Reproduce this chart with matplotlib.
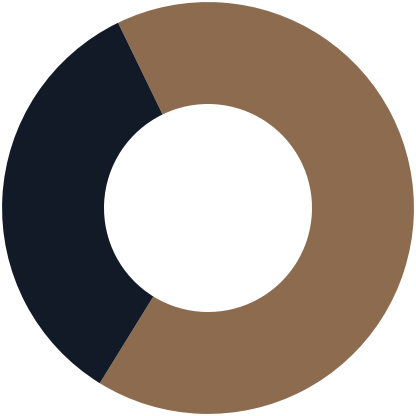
import matplotlib
matplotlib.use("Agg")
import matplotlib.pyplot as plt

labels = ["A", "B"]
values = [66, 34]
colors = ["#8c6b4f", "#111a26"]

fig = plt.figure(figsize=(4.16, 4.16), dpi=100)
ax = fig.add_axes([0, 0, 1, 1])
ax.pie(values, colors=colors, startangle=238.3, counterclock=True,
       radius=0.99, wedgeprops=dict(width=0.49, edgecolor="none"))
ax.set_xlim(-1, 1)
ax.set_ylim(-1, 1)
ax.set_aspect("equal")
ax.axis("off")
fig.savefig("out.png", dpi=100, facecolor="white")
